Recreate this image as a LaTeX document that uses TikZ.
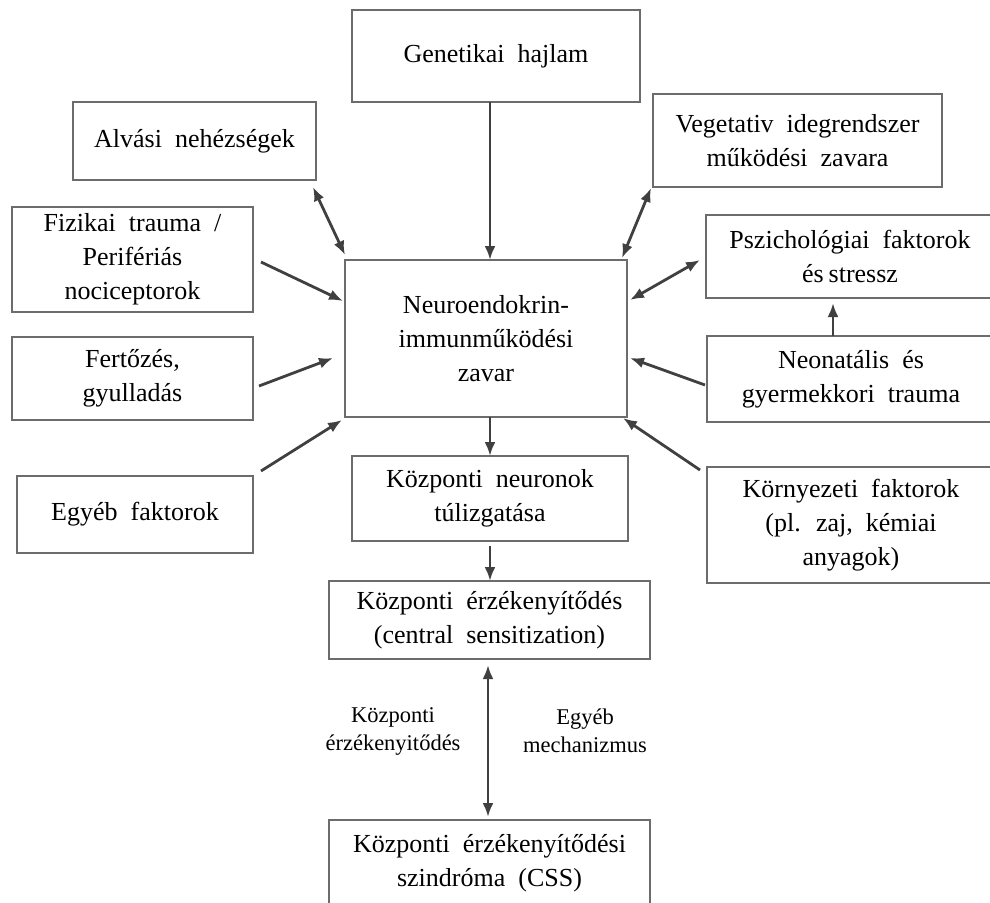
\documentclass[tikz,border=0pt]{standalone}
\usepackage{fontspec}
\setmainfont{Liberation Serif}[WordSpace=2.0]
\usetikzlibrary{arrows.meta, calc}

\begin{document}
\begin{tikzpicture}[
    x=1pt, y=-1pt,
    factorbox/.style={
        rectangle, draw=gray!85!black, line width=1.6pt, fill=white,
        inner sep=0pt, outer sep=0pt, align=center,
        font=\fontsize{26pt}{34pt}\selectfont,
        minimum width=#1
    },
    sidelabel/.style={
        align=center, font=\fontsize{22.5pt}{28pt}\selectfont
    },
    arr/.style={-{Latex[length=14pt,width=11pt]}, line width=2.8pt, draw=black!75},
    dblarr/.style={{Latex[length=14pt,width=11pt]}-{Latex[length=14pt,width=11pt]}, line width=2.8pt, draw=black!75}
]

% Page frame
\clip (0,0) rectangle (990,902);
\fill[white] (0,0) rectangle (990,902);

% Top and left-hand factor boxes
\node[factorbox=288pt, minimum height=92pt]  (gen)    at (496,56)    {Genetikai hajlam};
\node[factorbox=243pt, minimum height=78pt]  (alvas)  at (194.5,141) {Alvási nehézségek};
\node[factorbox=241pt, minimum height=105pt] (fizik)  at (132.5,259.5)
    {Fizikai trauma /\\Perifériás\\nociceptorok};
\node[factorbox=241pt, minimum height=83pt]  (fertoz) at (132.5,378.5) {Fertőzés,\\gyulladás};
\node[factorbox=236pt, minimum height=77pt]  (egyeb)  at (135,514.5)  {Egyéb faktorok};

% Right-hand factor boxes
\node[factorbox=289pt, minimum height=93pt]  (veget)   at (797.5,140.5)
    {Vegetativ idegrendszer\\működési zavara};
\node[factorbox=288pt, minimum height=83pt]  (pszich)  at (850,256.5)
    {Pszichológiai faktorok\\és\hspace{5pt}stressz};
\node[factorbox=288pt, minimum height=86pt]  (neonat)  at (851,379)
    {Neonatális és\\gyermekkori trauma};
\node[factorbox=288pt, minimum height=116pt] (kornyez) at (851,525)
    {Környezeti faktorok\\(pl. zaj, kémiai\\anyagok)};

% Central chain
\node[factorbox=282pt, minimum height=157pt] (neuro)   at (486,338.5)
    {Neuroendokrin-\\immunműködési\\zavar};
\node[factorbox=276pt, minimum height=85pt]  (kozneur) at (490,498.5)
    {Központi neuronok\\túlizgatása};
\node[factorbox=321pt, minimum height=78pt]  (kozerz)  at (489.5,620)
    {Központi érzékenyítődés\\(central sensitization)};
\node[factorbox=321pt, minimum height=86pt]  (css)     at (489.5,863)
    {Központi érzékenyítődési\\szindróma (CSS)};

% Labels beside the two-way link
\node[sidelabel] (lblcs)   at (393,731) {Központi\\érzékenyitődés};
\node[sidelabel] (lblmech) at (585,731) {Egyéb\\mechanizmus};

% Arrows into the central box
\draw[arr]    (gen.south -| kozneur.north) -- (neuro.north -| kozneur.north);
\draw[dblarr] ([xshift=-3pt,yshift=-7pt]alvas.south east) -- ([yshift=5pt]neuro.north west);
\draw[dblarr] ([xshift=-2pt,yshift=-1pt]veget.south west) -- ([xshift=-5pt,yshift=2pt]neuro.north east);
\draw[arr]    ([xshift=8pt,yshift=-2.5pt]fizik.east)      -- ([xshift=-2pt,yshift=37.5pt]neuro.west);
\draw[arr]    ([xshift=6pt,yshift=-7.5pt]fertoz.east)     -- ([xshift=-12pt,yshift=-19.5pt]neuro.west);
\draw[arr]    ([xshift=8pt,yshift=5pt]egyeb.north east)   -- ([xshift=-3pt,yshift=-3pt]neuro.south west);
\draw[dblarr] ([xshift=3pt,yshift=38.5pt]neuro.east)      -- ([xshift=-6pt,yshift=-3.5pt]pszich.west);
\draw[arr]    ([xshift=-18pt]neonat.north)                -- ([xshift=-17pt,yshift=-5pt]pszich.south);
\draw[arr]    ([xshift=-2pt,yshift=-6pt]neonat.west)      -- ([xshift=3pt,yshift=-19.5pt]neuro.east);
\draw[arr]    ([xshift=-7pt,yshift=-3pt]kornyez.north west) -- ([xshift=-4pt,yshift=-1pt]neuro.south east);

% Downward chain
\draw[arr]    (neuro.south -| kozneur.north) -- (kozneur.north);
\draw[arr, shorten <=5pt] (kozneur.south) -- (kozneur.south |- kozerz.north);
\draw[dblarr, shorten <=6pt, shorten >=3pt] ([xshift=-1.5pt]kozerz.south) -- ([xshift=-1.5pt]css.north);

\end{tikzpicture}
\end{document}
